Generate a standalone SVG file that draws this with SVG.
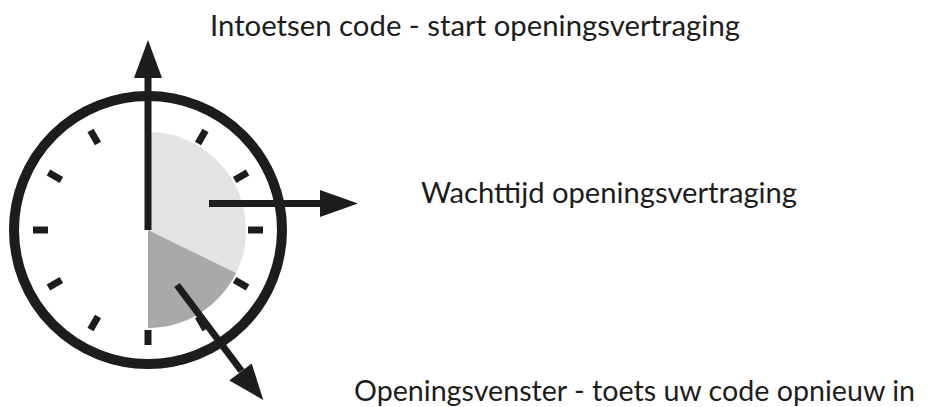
<svg xmlns="http://www.w3.org/2000/svg" width="931" height="407" viewBox="0 0 931 407">
<defs>
<style>
.lbl{font-family:"Lato","Open Sans","Liberation Sans",sans-serif;font-size:28px;fill:#1d1d1b}
.tick{stroke:#1d1d1b;stroke-width:7;fill:none}
.hand{stroke:#1d1d1b;stroke-width:7;fill:none}
.head{fill:#1d1d1b}
</style>
</defs>
<rect width="931" height="407" fill="#ffffff"/>
<g id="clock">
<path d="M148,230 L148,132 A98,98 0 0 1 236.1,273 Z" fill="#e3e3e3"/>
<path d="M148,230 L236.1,273 A98,98 0 0 1 148,328 Z" fill="#a9a9a9"/>
<circle cx="148" cy="230" r="134" fill="none" stroke="#1d1d1b" stroke-width="10"/>
<g class="tick" transform="translate(148,230)">
<line x1="0" y1="100" x2="0" y2="115"/>
<line x1="0" y1="100" x2="0" y2="115" transform="rotate(30)"/>
<line x1="0" y1="100" x2="0" y2="115" transform="rotate(60)"/>
<line x1="0" y1="100" x2="0" y2="115" transform="rotate(90)"/>
<line x1="0" y1="100" x2="0" y2="115" transform="rotate(120)"/>
<line x1="0" y1="100" x2="0" y2="115" transform="rotate(150)"/>
<line x1="0" y1="100" x2="0" y2="115" transform="rotate(210)"/>
<line x1="0" y1="100" x2="0" y2="115" transform="rotate(240)"/>
<line x1="0" y1="100" x2="0" y2="115" transform="rotate(270)"/>
<line x1="0" y1="100" x2="0" y2="115" transform="rotate(300)"/>
<line x1="0" y1="100" x2="0" y2="115" transform="rotate(330)"/>
</g>
</g>
<g id="connectors">
<line class="hand" x1="148" y1="230" x2="148" y2="76"/>
<polygon class="head" points="148,40 134,78 162,78"/>
<line class="hand" x1="209" y1="203.5" x2="322" y2="203.5"/>
<polygon class="head" points="358,203.5 320,190 320,217"/>
<line class="hand" x1="177" y1="285" x2="241.5" y2="371"/>
<polygon class="head" points="263.3,400 229.3,380.4 251.7,363.6"/>
</g>
<g id="label-start"><text class="lbl" x="210" y="36" textLength="530" lengthAdjust="spacingAndGlyphs">Intoetsen code - start openingsvertraging</text></g>
<g id="label-wacht"><text class="lbl" x="421" y="203" textLength="376" lengthAdjust="spacingAndGlyphs">Wachttijd openingsvertraging</text></g>
<g id="label-venster"><text class="lbl" x="354" y="401" textLength="561" lengthAdjust="spacingAndGlyphs">Openingsvenster - toets uw code opnieuw in</text></g>
</svg>
